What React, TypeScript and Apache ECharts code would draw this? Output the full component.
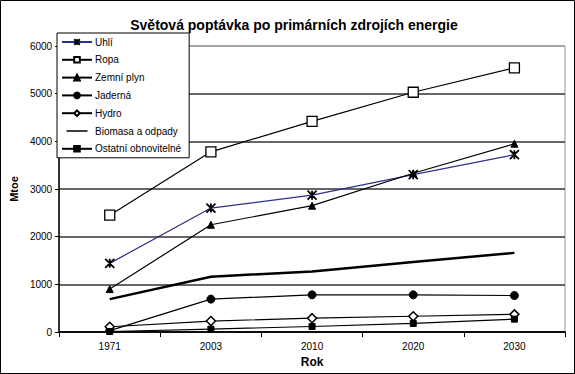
import React, { useEffect, useRef } from "react";
import * as echarts from "echarts";

const years = ["1971", "2003", "2010", "2020", "2030"];
const uhli = [1440, 2600, 2870, 3300, 3720];
const ropa = [2450, 3780, 4420, 5030, 5540];
const zemniPlyn = [900, 2250, 2650, 3330, 3950];
const jaderna = [30, 690, 780, 780, 765];
const hydro = [110, 230, 290, 330, 370];
const biomasa = [690, 1160, 1270, 1470, 1660];
const ostatni = [10, 60, 115, 180, 270];

const FONT = "Liberation Sans, Arial, sans-serif";
const STAR = "path://M0,0 L10,10 M10,0 L0,10 M5,0 L5,10 M5,10 L5,0 M0,10 L10,0 M10,10 L0,0";
const LINE_ICON = "path://M0,0 L0.01,0 L0,0 Z M0,4.1 L30,4.1 L30,5.9 L0,5.9 Z M0,10 L0.01,10 L0,10 Z";

export default function App() {
  const ref = useRef<HTMLDivElement>(null);
  useEffect(() => {
    document.body.style.margin = "0";
    const chart = echarts.init(ref.current!, null, { renderer: "svg" });
    const line = (name: string, data: number[], extra: any) => ({
      name,
      type: "line",
      data,
      symbolKeepAspect: true,
      lineStyle: { color: "#000", width: 1.2 },
      itemStyle: { color: "#000", borderColor: "#000", borderWidth: 1 },
      z: 3,
      ...extra,
    });
    chart.setOption({
      animation: false,
      backgroundColor: "#fff",
      title: {
        text: "Světová poptávka po primárních zdrojích energie",
        left: 289,
        textAlign: "center",
        top: 13,
        textStyle: { fontFamily: FONT, fontSize: 14, fontWeight: "bold", color: "#000" },
      },
      graphic: [
        {
          type: "rect",
          shape: { x: 0.5, y: 0.5, width: 574, height: 373 },
          style: { fill: "none", stroke: "#000", lineWidth: 1 },
          silent: true,
        },
      ],
      legend: {
        orient: "vertical",
        left: 57,
        top: 33,
        backgroundColor: "#fff",
        borderColor: "#000",
        borderWidth: 1,
        padding: [4, 8, 4, 4],
        itemWidth: 30,
        itemHeight: 7,
        itemGap: 7.8,
        z: 10,
        textStyle: { fontFamily: FONT, fontSize: 10, color: "#000", padding: [0, 0, 0, -2] },
        data: [
          "Uhlí",
          "Ropa",
          "Zemní plyn",
          "Jaderná",
          "Hydro",
          { name: "Biomasa a odpady", icon: LINE_ICON, itemStyle: { color: "#000", borderWidth: 0 } },
          "Ostatní obnovitelné",
        ],
      },
      grid: { left: 51, right: 10, top: 46, bottom: 42, show: true, borderColor: "#999", borderWidth: 1 },
      xAxis: {
        type: "category",
        data: years,
        boundaryGap: true,
        name: "Rok",
        nameLocation: "middle",
        nameGap: 22,
        nameTextStyle: { fontFamily: FONT, fontSize: 12, fontWeight: "bold", color: "#000" },
        axisLine: { lineStyle: { color: "#000", width: 1.5 } },
        axisTick: { show: true, length: 5, lineStyle: { color: "#000" } },
        axisLabel: { fontFamily: FONT, fontSize: 10, color: "#000", margin: 9 },
      },
      yAxis: {
        type: "value",
        min: 0,
        max: 6000,
        interval: 1000,
        name: "Mtoe",
        nameLocation: "middle",
        nameGap: 33,
        nameTextStyle: { fontFamily: FONT, fontSize: 11, fontWeight: "bold", color: "#000" },
        axisLine: { show: true, lineStyle: { color: "#000", width: 1.5 } },
        axisTick: { show: true, length: 4, lineStyle: { color: "#000" } },
        axisLabel: { fontFamily: FONT, fontSize: 10, color: "#000", margin: 7, formatter: (v: number) => String(v) },
        splitLine: {
          show: true,
          lineStyle: { color: ["#000", "#333", "#333", "#333", "#333", "#333", "#999"], width: 1.5 },
        },
      },
      series: [
        line("Uhlí", uhli, {
          symbol: STAR,
          symbolSize: 9,
          lineStyle: { color: "#2e2e8a", width: 1.2 },
          itemStyle: { color: "#2e2e8a", borderColor: "#000", borderWidth: 1.8 },
        }),
        line("Ropa", ropa, {
          symbol: "rect",
          symbolSize: 10,
          itemStyle: { color: "#fff", borderColor: "#000", borderWidth: 1.3 },
        }),
        line("Zemní plyn", zemniPlyn, { symbol: "triangle", symbolSize: 7 }),
        line("Jaderná", jaderna, { symbol: "circle", symbolSize: 8 }),
        line("Hydro", hydro, {
          symbol: "diamond",
          symbolSize: 9,
          itemStyle: { color: "#fff", borderColor: "#000", borderWidth: 1.5 },
        }),
        line("Biomasa a odpady", biomasa, { symbol: "none", lineStyle: { color: "#000", width: 2.5 } }),
        line("Ostatní obnovitelné", ostatni, { symbol: "rect", symbolSize: 6 }),
      ],
    });
    return () => chart.dispose();
  }, []);
  return <div ref={ref} style={{ width: 575, height: 374 }} />;
}
